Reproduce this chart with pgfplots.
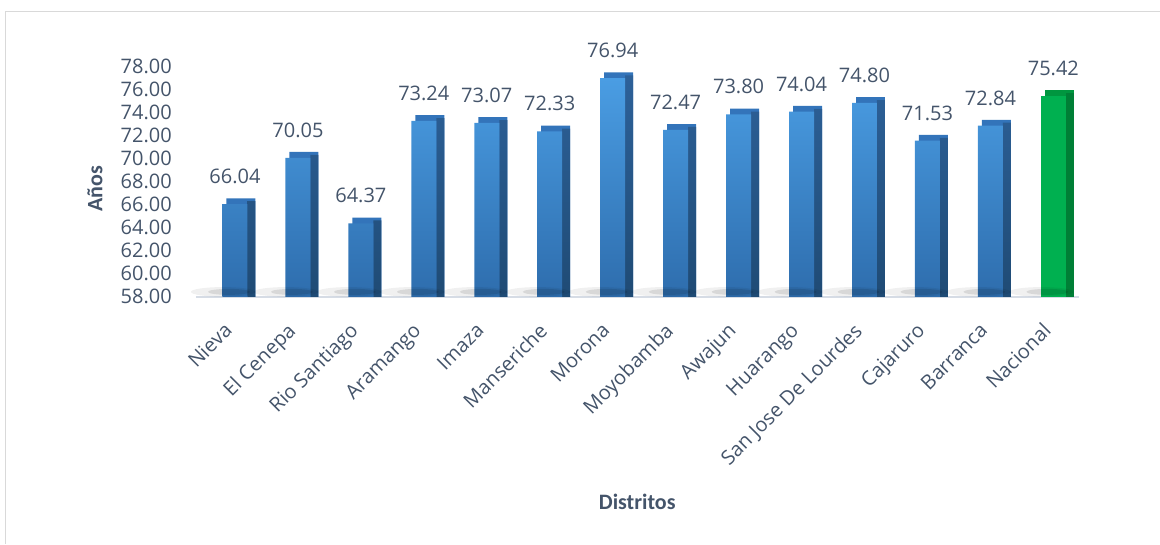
\documentclass[border=0pt]{standalone}
\usepackage{pgfplots}
\pgfplotsset{compat=1.18}
\usepackage{pgfplotstable}
\usepackage{fontspec}
\setmainfont{Open Sans}
\newfontfamily\calibri{Carlito}

\definecolor{txt}{HTML}{44546A}
\definecolor{frontT}{HTML}{4A9DE3}
\definecolor{frontB}{HTML}{2E6DAD}
\definecolor{sideT}{HTML}{2D6199}
\definecolor{sideB}{HTML}{1F4B75}
\definecolor{topF}{HTML}{3374BA}
\definecolor{gFront}{HTML}{00B050}
\definecolor{gSide}{HTML}{007F36}
\definecolor{gTop}{HTML}{00963F}
\definecolor{floorc}{HTML}{D6DCE5}
\definecolor{framec}{HTML}{D9D9D9}

% esperanza de vida por distrito
\pgfplotstableread{
x v
0 66.04
1 70.05
2 64.37
3 73.24
4 73.07
5 72.33
6 76.94
7 72.47
8 73.80
9 74.04
10 74.80
11 71.53
12 72.84
}\distritos
\pgfplotstableread{
x v
13 75.42
}\nacional
\pgfplotstableread{
x v
0 58
1 58
2 58
3 58
4 58
5 58
6 58
7 58
8 58
9 58
10 58
11 58
12 58
13 58
}\piso

\begin{document}
\begin{tikzpicture}
\begin{axis}[
    scale only axis,
    width=883pt, height=288.75pt,
    xmin=-0.62, xmax=13.4,
    ymin=58, ymax=83,
    ytick={58,60,...,78},
    xtick={0,...,13},
    xticklabels={Nieva,El Cenepa,Rio Santiago,Aramango,Imaza,Manseriche,Morona,Moyobamba,Awajun,Huarango,San Jose De Lourdes,Cajaruro,Barranca,Nacional},
    axis x line*=bottom, axis y line*=left,
    x axis line style={floorc, line width=1.5pt},
    y axis line style={draw=none},
    tick style={draw=none},
    /pgf/number format/.cd, fixed, fixed zerofill, precision=2, assume math mode=true,
    /pgfplots/.cd,
    ticklabel style={font=\fontsize{20}{24}\selectfont, text=txt},
    yticklabel style={anchor=east, inner sep=0pt, xshift=-24pt},
    xticklabel style={xshift=-12pt, yshift=-24.5pt, rotate=45, anchor=north east, inner sep=0pt},
    xlabel={Distritos}, ylabel={Años},
    every axis x label/.style={at={(axis description cs:0.5,-0.71)}, anchor=center,
        font=\calibri\bfseries\fontsize{22}{26}\selectfont, text=txt},
    every axis y label/.style={at={(axis description cs:-0.1144,0.374)}, anchor=center, rotate=90,
        font=\calibri\bfseries\fontsize{22}{26}\selectfont, text=txt},
    every node near coord/.append style={font=\fontsize{20}{24}\selectfont, text=txt,
        anchor=south, inner sep=0pt, yshift=20pt},
]
% sombras
\addplot[only marks, mark=*, mark size=4pt, draw opacity=0, fill=black, fill opacity=0.06,
    mark options={draw opacity=0, fill=black, fill opacity=0.06, xshift=-12pt, yshift=5pt, xscale=8, yscale=1.2}]
    table[x=x, y=v] {\piso};
\addplot[only marks, mark=*, mark size=3pt, draw opacity=0, fill=black, fill opacity=0.10,
    mark options={draw opacity=0, fill=black, fill opacity=0.10, xshift=-6pt, yshift=5pt, xscale=7, yscale=1}]
    table[x=x, y=v] {\piso};
% caras superiores
\addplot[ybar, bar width=29pt, bar shift=6pt, fill=topF, draw=none]
    table[x=x, y expr=\thisrow{v}+0.5] {\distritos};
\addplot[ybar, bar width=29pt, bar shift=6pt, fill=gTop, draw=none]
    table[x=x, y expr=\thisrow{v}+0.5] {\nacional};
% caras laterales
\addplot[ybar, bar width=8pt, bar shift=16.5pt, top color=sideT, bottom color=sideB, draw=none]
    table[x=x, y expr=\thisrow{v}+0.25] {\distritos};
\addplot[ybar, bar width=8pt, bar shift=16.5pt, fill=gSide, draw=none]
    table[x=x, y expr=\thisrow{v}+0.25] {\nacional};
% caras frontales
\addplot[ybar, bar width=25pt, bar shift=0pt, top color=frontT, bottom color=frontB, draw=none,
    nodes near coords, point meta=explicit]
    table[x=x, y=v, meta=v] {\distritos};
\addplot[ybar, bar width=25pt, bar shift=0pt, fill=gFront, draw=none,
    nodes near coords, point meta=explicit]
    table[x=x, y=v, meta=v] {\nacional};
\end{axis}
\draw[framec, line width=1pt] (-190pt,-247pt) -- (-190pt,285pt) -- (964pt,285pt);
\path[use as bounding box] (-196pt,-247pt) rectangle (964pt,297pt);
\end{tikzpicture}
\end{document}
